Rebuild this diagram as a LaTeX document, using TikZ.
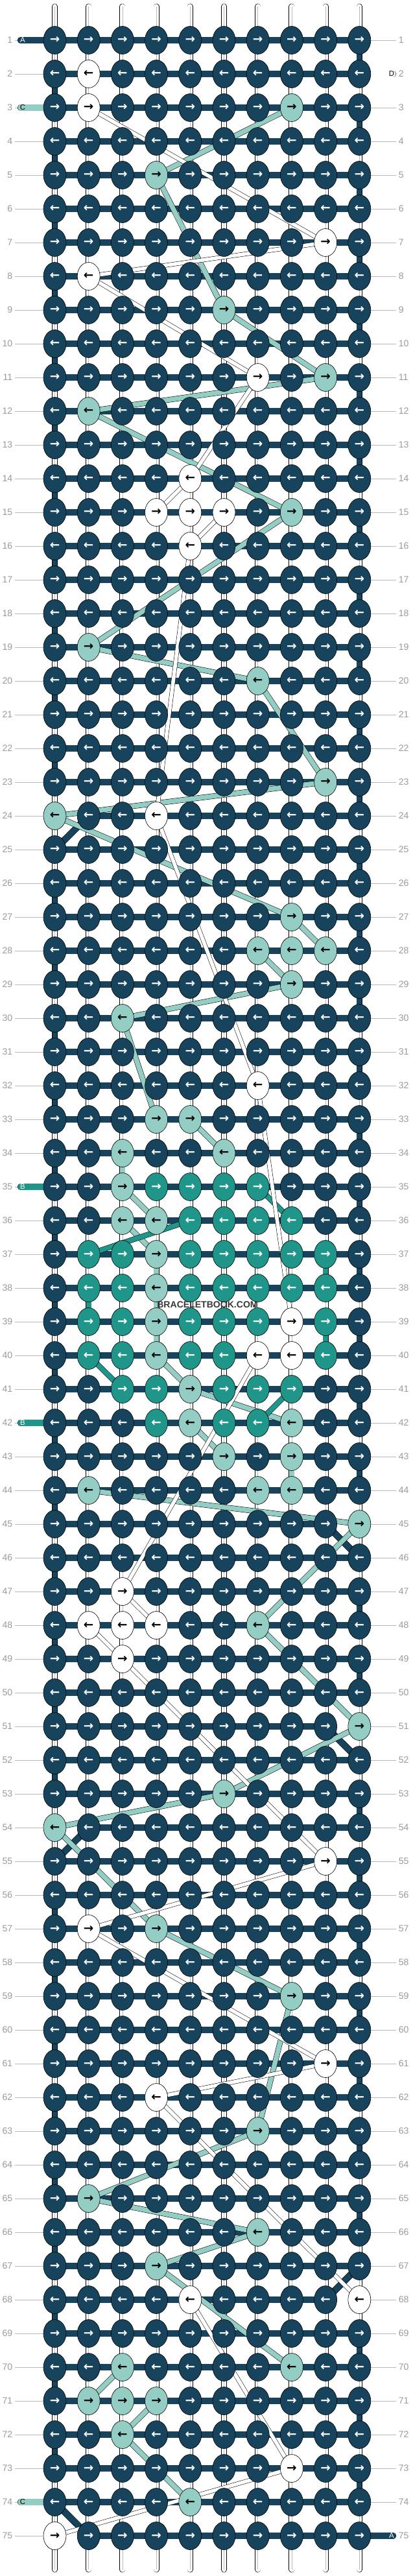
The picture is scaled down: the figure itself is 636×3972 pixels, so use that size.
\documentclass[tikz,border=0pt]{standalone}
\usepackage{fontspec}
\setmainfont{Liberation Sans}
\newfontfamily\arrowfont{DejaVu Sans}
\usetikzlibrary{shapes.geometric}

\definecolor{colA}{HTML}{17445C}
\definecolor{colB}{HTML}{20968A}
\definecolor{colC}{HTML}{94CDC4}
\definecolor{colD}{HTML}{FFFFFF}
\colorlet{txtA}{white}
\colorlet{txtB}{white}
\colorlet{txtC}{black}
\colorlet{txtD}{black}
\definecolor{rowgray}{HTML}{9A9A9A}
\definecolor{linegray}{HTML}{B8B8B8}

\pgfdeclarelayer{strings}
\pgfdeclarelayer{bars}
\pgfdeclarelayer{bands}
\pgfsetlayers{strings,bars,bands,main}

% which string shows on a knot (A if not listed)
\newcommand{\setknot}[3]{\expandafter\xdef\csname kl#1:#2\endcsname{#3}}
\foreach \ka/\kb in {2/2,3/2,7/9,8/2,11/7,14/5,15/4,15/5,15/6,16/5,24/4,32/7,39/8,40/7,40/8,
  47/3,48/2,48/3,48/4,49/3,55/9,57/2,61/9,62/4,68/5,68/10,73/8,75/1} {\setknot{\ka}{\kb}{D}}
\foreach \ka/\kb in {3/8,5/4,9/6,11/9,12/2,15/8,19/2,20/7,23/9,24/1,27/8,28/7,28/8,28/9,29/8,30/3,
  33/4,33/5,34/3,34/6,35/3,36/3,36/4,37/4,38/4,39/4,40/4,41/5,42/5,42/8,43/6,43/8,44/2,44/7,44/8,
  45/10,48/7,51/10,53/6,54/1,57/4,59/8,63/7,65/2,66/7,67/4,70/3,70/8,71/2,71/3,71/4,72/3,74/5} {\setknot{\ka}{\kb}{C}}
\foreach \ka/\kb in {35/4,35/5,35/6,35/7,36/5,36/6,36/7,36/8,37/2,37/3,37/5,37/6,37/7,37/8,37/9,
  38/2,38/3,38/5,38/6,38/7,38/8,38/9,39/2,39/3,39/5,39/6,39/7,39/9,40/2,40/3,40/5,40/6,40/9,
  41/3,41/4,41/6,41/7,41/8,42/4,42/6,42/7} {\setknot{\ka}{\kb}{B}}

\tikzset{
  knot/.style={ellipse, draw=black, line width=0.35pt, minimum width=0.7cm, minimum height=0.86cm,
    inner sep=0pt, font={\arrowfont\bfseries\fontsize{10.5}{10.5}\selectfont}},
  vstring/.style={draw=black, line width=0.35pt, double=white, double distance=4.4pt, line cap=round},
  midline/.style={draw=linegray, line width=0.3pt},
  hbar/.style={draw=black, line width=0.35pt, double=colA, double distance=5.2pt},
  wbar/.style={draw=black, line width=0.35pt, double=white, double distance=5.2pt},
  vbar/.style={draw=black, line width=0.35pt, double=#1, double distance=4.4pt},
  tail/.style={draw=black, line width=0.35pt, double=#1, double distance=5.2pt, line cap=round},
  cband/.style={draw=black, line width=0.3pt, double=colC, double distance=4.2pt},
  bband/.style={draw=black, line width=0.3pt, double=colB, double distance=4.2pt},
  dband/.style={draw=black, line width=0.3pt, double=white, double distance=3.2pt},
  rowline/.style={draw=linegray, line width=0.5pt},
  rownum/.style={text=rowgray, inner sep=2pt, font={\fontsize{8}{8}\selectfont}},
  endlabel/.style={inner sep=0pt, font={\fontsize{6.5}{6.5}\selectfont}},
  watermark/.style={inner sep=1pt, text=black!78, font={\bfseries\fontsize{8}{8}\selectfont}}
}

\begin{document}
\begin{tikzpicture}[x=0.02cm, y=-0.02cm]
\def\xzero{84.5}
\def\yzero{62}
\def\colsep{52.2}
\def\rowsep{52}
\useasboundingbox (0,0) rectangle (636,3972);

% knots
\foreach \kr in {1,...,75} {
  \foreach \kc in {1,...,10} {
    \ifcsname kl\kr:\kc\endcsname
      \edef\kl{\csname kl\kr:\kc\endcsname}
    \else
      \def\kl{A}
    \fi
    \ifodd\kr\relax \def\ka{→}\else \def\ka{←}\fi
    \node[knot, fill=col\kl, text=txt\kl] (k\kr-\kc) at ({\xzero+(\kc-1)*\colsep}, {\yzero+(\kr-1)*\rowsep}) {\ka};
  }
}

% row numbers
\foreach \kr in {1,...,75} {
  \node[rownum, anchor=east] (ll\kr) at (23, {\yzero+(\kr-1)*\rowsep}) {\kr};
  \node[rownum, anchor=west] (lr\kr) at (611, {\yzero+(\kr-1)*\rowsep}) {\kr};
}

\node[watermark] (wm) at (320, 2012) {BRACELETBOOK.COM};

\begin{pgfonlayer}{strings}
\foreach \kc in {1,...,10} {
  \coordinate (top\kc) at ({\xzero+(\kc-1)*\colsep}, 10);
  \coordinate (bot\kc) at ({\xzero+(\kc-1)*\colsep}, 3962);
  \draw[vstring] (top\kc) -- (bot\kc);
  \draw[midline] (top\kc) -- (bot\kc);
}
\foreach \kr in {1,...,75} {
  \draw[rowline] (ll\kr.east) -- (k\kr-1.west);
  \draw[rowline] (k\kr-10.east) -- (lr\kr.west);
}
\end{pgfonlayer}

\begin{pgfonlayer}{bars}
% the working string, row by row
\foreach \kr in {1,...,75} {
  \def\ka{1}\def\kb{10}
  \ifnum\kr=24 \def\ka{2}\fi
  \ifnum\kr=54 \def\ka{2}\fi
  \ifnum\kr=75 \def\ka{2}\fi
  \ifnum\kr=45 \def\kb{9}\fi
  \ifnum\kr=51 \def\kb{9}\fi
  \ifnum\kr=68 \def\kb{9}\fi
  \draw[hbar] (k\kr-\ka.center) -- (k\kr-\kb.center);
}
% turns at the edges
\foreach \kr in {1,...,74} {
  \pgfmathtruncatemacro\kn{\kr+1}
  \ifodd\kr\relax \def\ke{10}\else \def\ke{1}\fi
  \def\kw{1}
  \ifnum\kr=24 \def\kw{0}\fi
  \ifnum\kr=45 \def\kw{0}\fi
  \ifnum\kr=51 \def\kw{0}\fi
  \ifnum\kr=54 \def\kw{0}\fi
  \ifnum\kr=67 \def\kw{0}\fi
  \ifnum\kr=74 \def\kw{0}\fi
  \ifnum\kw=1 \draw[vbar=colA] (k\kr-\ke.center) -- (k\kn-\ke.center);\fi
}
\draw[hbar] (k24-2.center) -- (k25-1.center);
\draw[hbar] (k45-9.center) -- (k46-10.center);
\draw[hbar] (k51-9.center) -- (k52-10.center);
\draw[hbar] (k54-2.center) -- (k55-1.center);
\draw[hbar] (k67-10.center) -- (k68-9.center);
\draw[hbar] (k74-1.center) -- (k75-2.center);
\draw[wbar] (k68-9.center) -- (k68-10.center);
\draw[wbar] (k75-1.center) -- (k75-2.center);
% same string straight down
\draw[vbar=colC] (k34-3.center) -- (k35-3.center);
\draw[vbar=colC] (k37-4.center) -- (k40-4.center);
\draw[vbar=colC] (k43-8.center) -- (k44-8.center);
\draw[vbar=colB] (k37-9.center) -- (k38-9.center);
\draw[vbar=colB] (k38-2.center) -- (k39-2.center);
\draw[vbar=colB] (k39-9.center) -- (k40-9.center);
% loose ends
\coordinate (endA1) at (32, 62);
\coordinate (endC3) at (32, 166);
\coordinate (endB35) at (32, 1830);
\coordinate (endB42) at (32, 2194);
\coordinate (endC74) at (32, 3858);
\coordinate (endD2) at (606, 114);
\coordinate (endA75) at (606, 3910);
\draw[tail=colA] (endA1) -- (k1-1.center);
\draw[tail=colC] (endC3) -- (k3-1.center);
\draw[tail=colB] (endB35) -- (k35-1.center);
\draw[tail=colB] (endB42) -- (k42-1.center);
\draw[tail=colC] (endC74) -- (k74-1.center);
\draw[tail=colD] (endD2) -- (k2-10.center);
\draw[tail=colA] (endA75) -- (k75-10.center);
\end{pgfonlayer}

\node[endlabel, text=white] (nA1) at (35, 62) {A};
\node[endlabel, text=black] (nC3) at (35, 166) {C};
\node[endlabel, text=white] (nB35) at (35, 1830) {B};
\node[endlabel, text=white] (nB42) at (35, 2194) {B};
\node[endlabel, text=black] (nC74) at (35, 3858) {C};
\node[endlabel, text=black] (nD2) at (604, 114) {D};
\node[endlabel, text=white] (nA75) at (604, 3910) {A};

\begin{pgfonlayer}{bands}
\foreach \ka/\kb in {3-8/5-4, 5-4/9-6, 9-6/11-9, 11-9/12-2, 12-2/15-8, 15-8/19-2, 19-2/20-7,
  20-7/23-9, 23-9/24-1, 24-1/27-8, 27-8/28-9, 28-7/29-8, 29-8/30-3, 30-3/33-4, 33-5/34-6,
  35-3/36-4, 36-3/37-4, 40-4/41-5, 41-5/42-8, 42-5/43-6, 44-2/45-10, 45-10/48-7, 48-7/51-10,
  51-10/53-6, 53-6/54-1, 54-1/57-4, 57-4/59-8, 59-8/63-7, 63-7/65-2, 65-2/66-7, 66-7/67-4,
  67-4/70-8, 70-3/71-2, 71-4/72-3, 72-3/74-5}
  \draw[cband] (k\ka.center) -- (k\kb.center);
\foreach \ka/\kb in {35-7/36-8, 36-5/37-2, 40-2/41-3, 41-8/42-7}
  \draw[bband] (k\ka.center) -- (k\kb.center);
\foreach \ka/\kb in {3-2/7-9, 7-9/8-2, 8-2/11-7, 11-7/14-5, 14-5/15-4, 15-6/16-5, 16-5/24-4,
  24-4/32-7, 32-7/39-8, 40-7/47-3, 47-3/48-4, 48-2/49-3, 49-3/55-9, 55-9/57-2, 57-2/61-9,
  61-9/62-4, 62-4/68-10, 68-5/73-8, 73-8/75-1}
  \draw[dband] (k\ka.center) -- (k\kb.center);
\end{pgfonlayer}
\end{tikzpicture}
\end{document}
